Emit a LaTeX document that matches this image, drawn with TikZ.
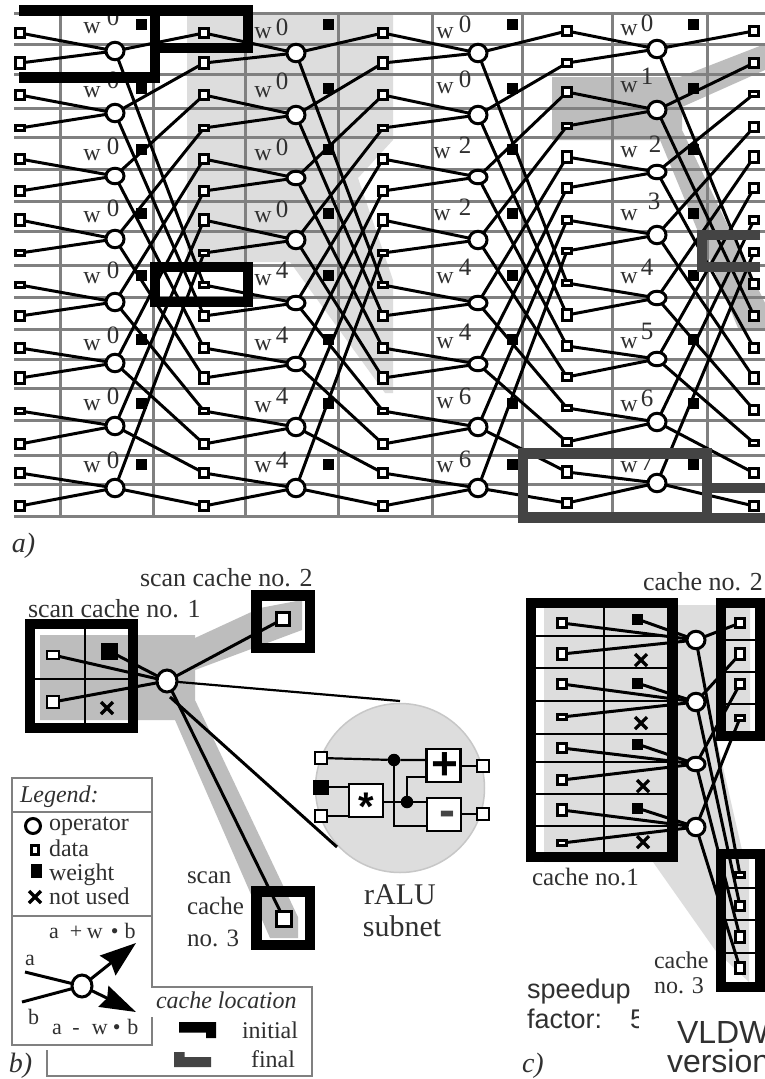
\documentclass[tikz,border=0pt]{standalone}
\usepackage{fontspec}
\setmainfont{Liberation Serif}
\newfontfamily\helv{Liberation Sans}
\usetikzlibrary{shapes.geometric,shapes.misc,arrows.meta}
\newcommand{\fsz}[1]{\fontsize{#1}{#1}\selectfont}
\definecolor{lightg}{HTML}{DDDDDD}
\definecolor{midg}{HTML}{BDBDBD}
\definecolor{gridg}{HTML}{808080}
\definecolor{darkf}{HTML}{444444}
\definecolor{inkg}{HTML}{303030}
\pgfdeclarelayer{hl}\pgfdeclarelayer{gridl}\pgfdeclarelayer{conn}\pgfdeclarelayer{frames}
\pgfsetlayers{hl,gridl,conn,main,frames}
\tikzset{
  databox/.style={draw=black,fill=white,rectangle,line width=2.8pt,inner sep=0pt,outer sep=0pt,minimum width=9.5pt},
  opnode/.style={draw=black,fill=white,ellipse,line width=3pt,inner sep=0pt,outer sep=0pt,minimum width=18pt},
  weightbox/.style={fill=black,rectangle,inner sep=0pt,outer sep=0pt,minimum width=11pt,minimum height=11pt},
  xmark/.style={cross out,draw=black,line width=3.2pt,inner sep=0pt,outer sep=0pt,minimum width=12pt,minimum height=12pt},
  wire/.style={draw=black,line width=3pt},
  thinwire/.style={draw=black,line width=2.2pt},
  gridline/.style={draw=gridg,line width=3pt},
  legline/.style={draw=gridg,line width=2.2pt},
  frameblack/.style={draw=black,line width=10.5pt,miter limit=10},
  framedark/.style={draw=darkf,line width=10.5pt,miter limit=10},
  divider/.style={draw=black,line width=2pt},
  wlabel/.style={inner sep=0pt,outer sep=0pt,text=inkg,font=\fsz{24}},
  explabel/.style={inner sep=0pt,outer sep=0pt,text=inkg,font=\fsz{25}},
  txt/.style={inner sep=0pt,outer sep=0pt,text=inkg,anchor=base west,font=\fsz{25}},
  legtxt/.style={inner sep=0pt,outer sep=0pt,text=inkg,anchor=base west,font=\fsz{24}},
  formula/.style={inner sep=0pt,outer sep=0pt,text=inkg,anchor=base west,font=\fsz{22}},
  partlab/.style={inner sep=0pt,outer sep=0pt,text=inkg,anchor=base west,font=\fsz{28}\itshape},
  alubox/.style={draw=black,fill=white,rectangle,line width=2.5pt,inner sep=0pt,outer sep=0pt,minimum width=34pt,minimum height=33pt},
  junction/.style={circle,fill=black,inner sep=0pt,outer sep=0pt,minimum size=12.5pt},
}
\newcommand{\datacol}[3]{\foreach \r/\yy/\hh in {#3}{\node[databox,minimum height={\hh pt-2.5pt}] (d#1-\r) at (#2,\yy) {};}}
\newcommand{\opcol}[3]{\foreach \r/\yy/\hh in {#3}{\node[opnode,minimum height={\hh pt-2.5pt}] (op#1-\r) at (#2,\yy) {};}}
\newcommand{\wcol}[2]{\foreach \r/\yy in {0/24,1/88,2/149,3/213,4/275,5/339,6/403,7/464}{\node[weightbox] (wt#1-\r) at (#2,\yy) {};}}
\newcommand{\wlabs}[2]{\foreach \r/\wx/\wy/\dx/\dy/\dg in {#2}{\node[wlabel] (wl#1-\r) at (\wx,\wy) {w};\node[explabel] (ex#1-\r) at (\dx,\dy) {\dg};}}
\begin{document}
\begin{tikzpicture}[x=1pt,y=-1pt]
\useasboundingbox (0,0) rectangle (765,1079);
\begin{pgfonlayer}{hl}
\fill[white] (0,0) rectangle (765,1079);
% part a highlights
\fill[lightg] (187,15) -- (393,15) -- (393,140) -- (358,178) -- (393,280) -- (393,393) -- (385,393) -- (290,262) -- (187,262) -- cycle;
\fill[midg] (552,77) -- (680,77) -- (765,44) -- (765,70) -- (682,107) -- (682,130) -- (765,303) -- (765,328) -- (738,328) -- (660,140) -- (552,140) -- cycle;
% part b highlights
\fill[midg] (40,635) -- (195,635) -- (195,638) -- (260,608) -- (302,600) -- (302,630) -- (195,670) -- (195,700) -- (298,917) -- (298,938) -- (270,938) -- (175,720) -- (40,720) -- cycle;
\node[circle,fill=lightg,draw=black!22,line width=1.5pt,minimum size=169pt,inner sep=0pt] (aluzone) at (400,788) {};
% part c highlight
\fill[lightg] (544,605) -- (750,605) -- (750,741) -- (717,741) -- (742,850) -- (749,850) -- (749,982) -- (715,950) -- (653,862) -- (544,862) -- cycle;
\end{pgfonlayer}
\begin{pgfonlayer}{gridl}
\foreach \yy in {13,44,74,108,137,169,201,231,265,297,329,359,388,420,455,484,516} \draw[gridline] (14,\yy) -- (765,\yy);
\foreach \xx in {60.5,153.5,245,338,432,522,612,707} \draw[gridline] (\xx,13) -- (\xx,516);
\end{pgfonlayer}
% --- part a nodes
\datacol{1}{20}{0/33/12,1/63/13,2/95/11,3/128/8,4/159/11,5/191/11,6/220/14,7/253/8,8/285/8,9/316/11,10/348/11,11/378/13,12/411/8,13/444/11,14/473/11,15/506/11}
\datacol{2}{204}{0/33/12,1/63/13,2/95/11,3/128/8,4/159/11,5/191/11,6/220/14,7/253/8,8/285/8,9/316/11,10/348/11,11/378/13,12/411/8,13/444/11,14/473/11,15/506/11}
\datacol{3}{383}{0/33/12,1/63/13,2/95/11,3/128/8,4/159/11,5/191/11,6/220/14,7/253/8,8/285/8,9/316/11,10/348/11,11/378/13,12/411/8,13/444/11,14/473/11,15/506/11}
\datacol{4}{567}{0/31/11,1/63/10,2/92/12,3/126/8,4/157/13,5/188/11,6/220/10,7/251/8,8/283/8,9/315/14,10/346/11,11/377/10,12/408/8,13/442/10,14/472/13,15/503/11}
\datacol{5}{754}{0/31/11,1/63/11,2/94/8,3/127/11,4/157/13,5/188/11,6/220/10,7/252/10,8/284/11,9/316/11,10/348/11,11/378/13,12/410/11,13/443/8,14/473/11,15/506/11}
\opcol{1}{115}{0/51/20,1/113/20,2/176/18,3/239/20,4/302/20,5/363/20,6/426/20,7/488/20}
\opcol{2}{296}{0/53/20,1/115/20,2/178/16,3/240/20,4/303/16,5/364/16,6/427/20,7/488/20}
\opcol{3}{478}{0/53/20,1/115/20,2/177/16,3/240/20,4/303/16,5/364/16,6/427/20,7/488/20}
\opcol{4}{657}{0/49/20,1/110/20,2/172/16,3/235/20,4/298/16,5/359/16,6/422/20,7/483/20}
\wcol{1}{141}\wcol{2}{328}\wcol{3}{512.6}\wcol{4}{693.5}
\wlabs{1}{0/92/28/113/17/0,1/92/92/113/80/0,2/92/155/113/146/0,3/92/217/113/208/0,4/92/278/113/270/0,5/92/345/113/335/0,6/92/405/113/396/0,7/92/467/113/460/0}
\wlabs{2}{0/263/33/282/27/0,1/263/92/282/81/0,2/263/155/282/147/0,3/263/217/282/209/0,4/263/280/282/270/4,5/263/345/282/335/4,6/263/407/282/396/4,7/263/467/282/460/4}
\wlabs{3}{0/445/33/465/24/0,1/445/88/465/79/0,2/442/153/465/145/2,3/442/215/465/207/2,4/445/278/465/267/4,5/445/343/465/332/4,6/445/403/465/396/6,7/445/467/465/459/6}
\wlabs{4}{0/629/30/647/23/0,1/629/87/647/76/1,2/629/152/655/144/2,3/629/215/654/201/3,4/629/278/647/267/4,5/629/343/647/331/5,6/629/406/647/398/6,7/629/467/647/462/7}
\begin{pgfonlayer}{conn}
\foreach \ca/\cb in {1/2,2/3,3/4,4/5}{
  \foreach \i in {0,...,7}{
    \pgfmathtruncatemacro\ia{2*\i}
    \pgfmathtruncatemacro\ib{2*\i+1}
    \pgfmathtruncatemacro\ic{8+\i}
    \draw[wire] (d\ca-\ia) -- (op\ca-\i);
    \draw[wire] (d\ca-\ib) -- (op\ca-\i);
    \draw[wire] (op\ca-\i) -- (d\cb-\i);
    \draw[wire] (op\ca-\i) -- (d\cb-\ic);
  }
}
\end{pgfonlayer}
\begin{pgfonlayer}{frames}
\draw[frameblack] (19,10.5) -- (155,10.5) -- (155,77.5) -- (19,77.5);
\draw[frameblack] (155,10.5) -- (248,10.5) -- (248,48) -- (155,48);
\draw[frameblack] (155,267) rectangle (248,302);
\draw[framedark] (760,235) -- (702,235) -- (702,267) -- (760,267);
\draw[framedark] (523,453.5) rectangle (707,517.5);
\draw[framedark] (707,488) -- (765,488);
\draw[framedark] (707,518) -- (765,518);
\end{pgfonlayer}
\node[partlab] (labA) at (12,552) {a)};
% --- part b
\node[txt,font=\fsz{26}] (sc2) at (140,586) {scan cache no. 2};
\node[txt,font=\fsz{26}] (sc1) at (28,617) {scan cache no. 1};
\node[databox,minimum width=12pt,minimum height=8pt] (bd1) at (53,655) {};
\node[databox,minimum width=12pt,minimum height=12pt] (bd2) at (53,702) {};
\node[weightbox,minimum width=17pt,minimum height=17pt] (bw) at (109,651) {};
\node[xmark] (bx) at (107,708) {};
\node[opnode,minimum width=20pt,minimum height=22pt] (bop) at (167,681) {};
\node[databox,minimum width=13pt,minimum height=13pt] (bd3) at (283,619) {};
\node[databox,minimum width=15pt,minimum height=15pt] (bd4) at (284,919) {};
\coordinate (zt) at (400,701);
\coordinate (zb) at (337,847);
\coordinate (bopb) at (170,697);
\begin{pgfonlayer}{conn}
\draw[wire] (bd1) -- (bop);
\draw[wire] (bd2) -- (bop);
\draw[wire] (bw) -- (bop);
\draw[wire] (bop) -- (bd3);
\draw[wire] (bop) -- (bd4);
\draw[thinwire] (bop) -- (zt);
\draw[wire] (bopb) -- (zb);
\draw[divider] (85,629) -- (85,723);
\draw[divider] (35,679) -- (128,679);
\end{pgfonlayer}
\begin{pgfonlayer}{frames}
\draw[frameblack] (30,624) rectangle (133,728);
\draw[frameblack] (256.5,595.5) rectangle (310,648);
\draw[frameblack] (256.5,891.5) rectangle (310,945);
\end{pgfonlayer}
% rALU
\node[databox,minimum width=12pt,minimum height=12pt] (ai1) at (321,758) {};
\node[weightbox,minimum width=16pt,minimum height=15pt] (ai2) at (321,787) {};
\node[databox,minimum width=12pt,minimum height=12pt] (ai3) at (321,816) {};
\node[alubox] (plusb) at (443.5,765.5) {};
\node[alubox] (minusb) at (444,814.5) {};
\node[alubox] (starb) at (366,800.5) {};
\node[databox,minimum width=12pt,minimum height=12pt] (ao1) at (483,766) {};
\node[databox,minimum width=12pt,minimum height=12pt] (ao2) at (483,814) {};
\node[junction] (j1) at (394,760) {};
\node[junction] (j2) at (407,802) {};
\node[inner sep=0pt,font=\helv\bfseries\fsz{46}] (plusg) at (445,766) {+};
\node[inner sep=0pt,text=darkf,font=\helv\bfseries\fsz{48}] (minusg) at (447,819) {-};
\node[inner sep=0pt,font=\helv\bfseries\fsz{40}] (starg) at (366,807) {*};
\coordinate (pk0) at (0,777);
\coordinate (mk0) at (0,826);
\coordinate (pk) at (plusb.west |- pk0);
\coordinate (mk) at (minusb.west |- mk0);
\begin{pgfonlayer}{conn}
\draw[thinwire] (ai1) -- (j1) -- (plusb.west |- j1);
\draw[thinwire] (ai2) -- (starb.west |- ai2);
\draw[thinwire] (ai3) -- (starb.west |- ai3);
\draw[thinwire] (starb.east |- j2) -- (j2) -- (minusb.west |- j2);
\draw[thinwire] (j2) |- (pk);
\draw[thinwire] (j1) |- (mk);
\draw[thinwire] (plusb.east |- ao1) -- (ao1);
\draw[thinwire] (minusb.east |- ao2) -- (ao2);
\end{pgfonlayer}
\node[txt,anchor=base,font=\fsz{30}] (ral) at (400,904) {rALU};
\node[txt,anchor=base,font=\fsz{30}] (sub) at (402,936) {subnet};
\node[txt] (sc3a) at (187,883) {scan};
\node[txt] (sc3b) at (187,914) {cache};
\node[txt] (sc3c) at (187,946) {no. 3};
% legend
\draw[legline] (12,778) rectangle (152,812);
\draw[legline] (12,812) -- (12,1045) -- (152,1045) -- (152,1017);
\draw[legline] (152,812) -- (152,987) -- (312,987) -- (312,1076) -- (47,1076) -- (47,1050);
\draw[legline] (12,916) -- (152,916);
\node[legtxt,font=\fsz{24}\itshape] (legt) at (20,802) {Legend:};
\node[opnode,minimum width=15pt,minimum height=15pt] (lop) at (33,826) {};
\node[legtxt] (lopt) at (49,830) {operator};
\node[databox,minimum width=7pt,minimum height=9pt] (ldt) at (35,850) {};
\node[legtxt] (ldtt) at (49,856) {data};
\node[weightbox,minimum width=11pt,minimum height=14pt] (lwt) at (36,871) {};
\node[legtxt] (lwtt) at (49,880) {weight};
\node[xmark] (lxm) at (35,897) {};
\node[legtxt] (lxmt) at (49,904) {not used};
\node[formula] (fp) at (49,938) {a\hspace{11pt}+\hspace{4.8pt}w\hspace{8pt}•\hspace{6pt}b};
\node[formula] (fa) at (25,965) {a};
\node[formula] (fb) at (28,1024) {b};
\node[formula] (fm) at (52,1034) {a\hspace{10.5pt}-\hspace{12.3pt}w\hspace{5pt}•\hspace{7pt}b};
\node[opnode,minimum width=20pt,minimum height=22pt] (lgop) at (82,986) {};
\coordinate (ina) at (25,972);
\coordinate (inb) at (22,1002);
\coordinate (outp) at (136,943);
\coordinate (outm) at (136,1012);
\begin{pgfonlayer}{conn}
\draw[wire] (ina) -- (lgop);
\draw[wire] (inb) -- (lgop);
\draw[wire,-{Stealth[length=36pt,width=25pt,inset=4pt]}] (lgop) -- (outp);
\draw[wire,-{Stealth[length=36pt,width=23pt,inset=4pt]}] (lgop) -- (outm);
\end{pgfonlayer}
\node[legtxt,font=\fsz{24}\itshape] (cl) at (156,1008) {cache location};
\node[legtxt,anchor=base east] (cli) at (298,1038) {initial};
\node[legtxt,anchor=base east] (clf) at (295,1067) {final};
\fill[black] (179,1022) -- (216,1022) -- (216,1038) -- (206,1038) -- (206,1032.5) -- (179,1032.5) -- cycle;
\fill[darkf] (174,1052) -- (184.5,1052) -- (184.5,1057) -- (211,1057) -- (211,1067) -- (174,1067) -- cycle;
\node[partlab] (labB) at (9,1072) {b)};
% --- part c
\node[txt,font=\fsz{26}] (cc2) at (643,590) {cache no. 2};
\datacol{c1}{562}{0/623/11,1/654/13,2/684/11,3/717/8,4/748/11,5/780/11,6/810/13,7/843/7}
\foreach \r/\yy in {0/619,1/683,2/744,3/808}{\node[weightbox] (cw\r) at (637,\yy) {};}
\foreach \r/\xx/\yy in {0/641/660,1/641/723,2/643/786,3/643/842}{\node[xmark] (cx\r) at (\xx,\yy) {};}
\opcol{c}{696}{0/640/20,1/702/20,2/764/16,3/827/20}
\datacol{c2}{740}{0/623/11,1/654/13,2/684/11,3/718/8}
\datacol{c3}{740}{0/875/8,1/906/11,2/937/13,3/968/13}
\begin{pgfonlayer}{conn}
\foreach \i in {0,...,3}{
  \pgfmathtruncatemacro\ia{2*\i}
  \pgfmathtruncatemacro\ib{2*\i+1}
  \draw[wire] (dc1-\ia) -- (opc-\i);
  \draw[wire] (dc1-\ib) -- (opc-\i);
  \draw[wire] (cw\i) -- (opc-\i);
  \draw[wire] (opc-\i) -- (dc2-\i);
  \draw[wire] (opc-\i) -- (dc3-\i);
}
\foreach \yy in {636,668,701,734,762,794,826} \draw[divider] (536,\yy) -- (667,\yy);
\draw[divider] (604,608) -- (604,852);
\foreach \yy in {640,672,704,888,920,953} \draw[divider] (726,\yy) -- (755,\yy);
\end{pgfonlayer}
\begin{pgfonlayer}{frames}
\draw[frameblack] (531,603) rectangle (672.5,857);
\draw[frameblack] (721,603) rectangle (760,736);
\draw[frameblack] (721,854) rectangle (760,987);
\end{pgfonlayer}
\node[txt] (cc1) at (532,885) {cache no.1};
\node[txt,font=\fsz{24}] (cc3a) at (654,968) {cache};
\node[txt,font=\fsz{24}] (cc3b) at (654,993) {no. 3};
\node[txt,font=\helv\fsz{27}] (spd) at (527,998) {speedup};
\node[txt,font=\helv\fsz{27}] (fac) at (527,1028) {factor:};
\begin{scope}
\clip (620,1000) rectangle (638,1040);
\node[txt,font=\helv\fsz{27}] (five) at (630,1028) {5};
\end{scope}
\node[txt,font=\helv\fsz{32}] (vl) at (677,1043) {VLDW};
\node[txt,font=\helv\fsz{32}] (vr) at (667,1072) {version};
\node[partlab] (labC) at (522,1072) {c)};
\end{tikzpicture}
\end{document}
